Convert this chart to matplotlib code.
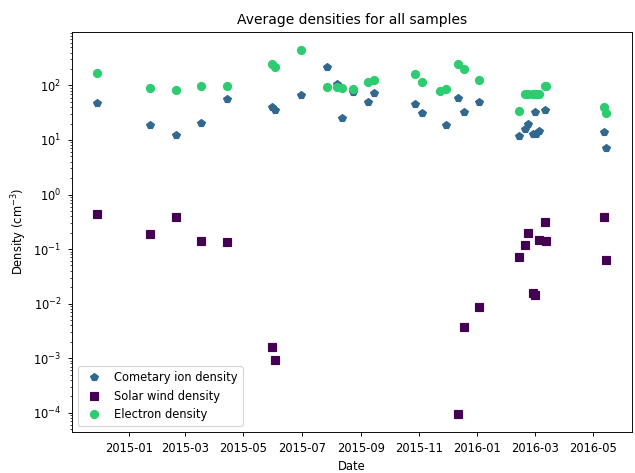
import matplotlib

matplotlib.use("Agg")
import matplotlib.dates as mdates
import matplotlib.pyplot as plt
import numpy as np
import pandas as pd

nan = np.nan

# Sample dates.
dates = [
    "2014-11-29", "2015-01-23", "2015-02-20", "2015-03-18", "2015-04-14",
    "2015-05-31", "2015-06-03", "2015-06-30", "2015-07-28", "2015-08-07",
    "2015-08-12", "2015-08-24", "2015-09-08", "2015-09-15", "2015-10-28",
    "2015-11-04", "2015-11-23", "2015-11-29", "2015-12-12", "2015-12-18",
    "2016-01-03", "2016-02-14", "2016-02-20", "2016-02-23", "2016-02-28",
    "2016-03-01", "2016-03-02", "2016-03-05", "2016-03-12", "2016-03-13",
    "2016-05-13", "2016-05-15",
]

# Densities in cm^-3 (NaN where no value was drawn).
cometary = [
    48, 18.9, 12.4, 20.5, 55.6, 40.9, 35, 67.6, 213, 106,
    25, 76, 49, 73.6, 45, 31.2, nan, 18.6, 60, 33.1,
    49, 11.7, 15.7, 19.4, 13.1, 32.6, 13.1, 14.7, 35, nan,
    13.7, 7.0,
]
solar_wind = [
    0.43, 0.191, 0.39, 0.142, 0.135, 0.0016, 0.00093, nan, nan, nan,
    nan, nan, nan, nan, nan, nan, nan, nan, 9.6e-5, 0.0037,
    0.0086, 0.070, 0.120, 0.193, 0.0158, 0.0145, nan, 0.147, 0.307, 0.138,
    0.38, 0.062,
]
electron = [
    171, 88, 81, 97, 97, 242, 216, 448, 92, 92,
    91, 85, 117, 125, 161, 117, 80, 86, 245, 196,
    125, 33.6, 68.5, 68.5, 68.5, 68.5, 68.5, 68.5, 97, 96,
    41, 31,
]

t = pd.to_datetime(dates)

DPI = 83
fig = plt.figure(figsize=(635 / DPI, 473 / DPI), dpi=DPI)
ax = fig.add_axes([0.113, 0.087, 0.882, 0.846])

ax.plot(t, cometary, linestyle="none", marker="p", markersize=7,
        color="#31688e", label="Cometary ion density")
ax.plot(t, solar_wind, linestyle="none", marker="s", markersize=7,
        color="#440154", label="Solar wind density")
ax.plot(t, electron, linestyle="none", marker="o", markersize=7,
        color="#2ecc71", label="Electron density")

ax.set_yscale("log")
ax.xaxis.set_major_locator(mdates.MonthLocator(bymonth=[1, 3, 5, 7, 9, 11]))
ax.xaxis.set_major_formatter(mdates.DateFormatter("%Y-%m"))
ax.tick_params(axis="both", which="major", pad=5.5)

ax.set_title("Average densities for all samples", pad=7)
ax.set_xlabel("Date")
ax.set_ylabel("Density (cm$^{-3}$)")
ax.legend(loc="lower left")

fig.savefig("out.png", dpi=DPI)
